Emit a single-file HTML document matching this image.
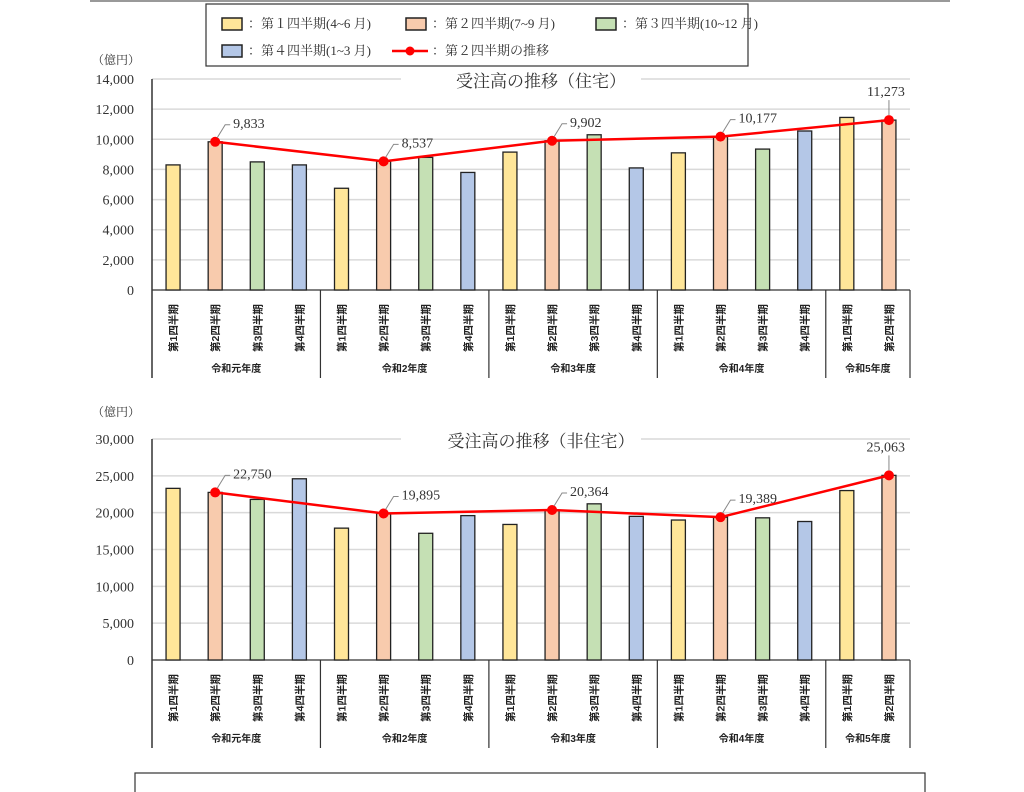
<!DOCTYPE html>
<html><head><meta charset="utf-8">
<style>
body{margin:0;background:#fff;}
svg{display:block;font-family:"Liberation Serif","Noto Serif CJK SC",serif;}
</style></head>
<body>
<svg id="s" width="1024" height="792" viewBox="0 0 1024 792">
<rect x="0" y="0" width="1024" height="792" fill="#fff"/>
<line x1="90" y1="1" x2="950" y2="1" stroke="#999" stroke-width="2"/>
<g>
<rect x="206" y="4" width="542" height="62" fill="#fff" stroke="#333" stroke-width="1.2"/>
<rect x="222" y="18" width="20" height="12" fill="#FFE699" stroke="#222" stroke-width="1.5"/>
<text x="248" y="28" font-size="13" fill="#333">：第１四半期(4~6 月)</text>
<rect x="406" y="18" width="20" height="12" fill="#F8CBAD" stroke="#222" stroke-width="1.5"/>
<text x="432" y="28" font-size="13" fill="#333">：第２四半期(7~9 月)</text>
<rect x="596" y="18" width="20" height="12" fill="#C5E0B4" stroke="#222" stroke-width="1.5"/>
<text x="622" y="28" font-size="13" fill="#333">：第３四半期(10~12 月)</text>
<rect x="222" y="45" width="20" height="12" fill="#B4C7E7" stroke="#222" stroke-width="1.5"/>
<text x="248" y="55" font-size="13" fill="#333">：第４四半期(1~3 月)</text>
<line x1="392" y1="51" x2="428" y2="51" stroke="#f00" stroke-width="2.5"/>
<circle cx="410" cy="51" r="4.5" fill="#f00"/>
<text x="432" y="55" font-size="13" fill="#333">：第２四半期の推移</text>
</g>
<rect x="135" y="773" width="790" height="30" fill="#fff" stroke="#333" stroke-width="1.2"/>
</svg>
<script>
const groups=["令和元年度","令和2年度","令和3年度","令和4年度","令和5年度"];
const quarters=["第1四半期","第2四半期","第3四半期","第4四半期"];
const resQ=[[8300,9833,8500,8300],[6750,8537,8800,7800],[9150,9902,10300,8100],[9100,10177,9350,10550],[11450,11273]];
const nonQ=[[23300,22750,21800,24600],[17900,19895,17200,19600],[18400,20364,21200,19500],[19000,19389,19300,18800],[23000,25063]];
const resTicks=[0,2000,4000,6000,8000,10000,12000,14000];
const nonTicks=[0,5000,10000,15000,20000,25000,30000];
const colors=["#FFE699","#F8CBAD","#C5E0B4","#B4C7E7"];
const NS="http://www.w3.org/2000/svg";
const svg=document.getElementById('s');
function mk(t,a,p){const e=document.createElementNS(NS,t);for(const k in a)e.setAttribute(k,a[k]);(p||svg).appendChild(e);return e;}
function chart(data,ticks,max,y0,yTop,title,unitY,name){
  const g=mk('g',{});
  
  
  const L=152,R=910;
  const nSlots=data.reduce((a,d)=>a+d.length,0);
  const sw=(R-L)/nSlots;
  const y=v=>y0-(v/max)*(y0-yTop);
  const u=mk('text',{x:92,y:unitY,'font-size':12,fill:'#333'},g);u.textContent='（億円）';
  
  
  ticks.forEach(t=>{
    const ln=mk('line',{x1:L,x2:R,y1:y(t),y2:y(t),stroke:t?'#d9d9d9':'#333','stroke-width':t?1.5:1.2},g);
    
    
    const tx=mk('text',{x:134,y:y(t)+5,'font-size':14,'text-anchor':'end',fill:'#333'},g);
    tx.textContent=t.toLocaleString('en-US');
    
    
  });
  mk('line',{x1:L,x2:L,y1:yTop,y2:y0+88,stroke:'#333','stroke-width':1.5},g);
  mk('rect',{x:(L+R)/2-130,y:yTop-10,width:240,height:20,fill:'#fff'},g);
  const tt=mk('text',{x:(L+R)/2+10,y:yTop+8,'font-size':17,'text-anchor':'middle',fill:'#333'},g);
  tt.textContent=title;
  
  
  let s=0;const pts=[];
  data.forEach((grp,gi)=>{
    const gx0=L+s*sw;
    grp.forEach((v,qi)=>{
      const cx=L+(s+0.5)*sw;
      const b=mk('rect',{x:cx-7,y:y(v),width:14,height:y0-y(v),fill:colors[qi],stroke:'#222','stroke-width':1.3},g);
      
      
      const ql=mk('text',{transform:`translate(${cx+4},${y0+62}) rotate(-90)`,'font-size':10.5,'font-family':'"Liberation Sans","Noto Sans CJK JP",sans-serif',fill:'#222','font-weight':'bold'},g);
      ql.textContent=quarters[qi];
      
      
      if(qi===1)pts.push([cx,y(v),v]);
      s++;
    });
    const gx1=L+s*sw;
    mk('line',{x1:gx1,x2:gx1,y1:y0,y2:y0+88,stroke:'#333','stroke-width':1.2},g);
    const gl=mk('text',{x:(gx0+gx1)/2,y:y0+82,'font-size':10,'text-anchor':'middle','font-family':'"Liberation Sans","Noto Sans CJK JP",sans-serif','font-weight':'bold',fill:'#222'},g);
    gl.textContent=groups[gi];
    
    
  });
  const pl=mk('polyline',{points:pts.map(p=>p[0]+','+p[1]).join(' '),fill:'none',stroke:'#f00','stroke-width':2.5},g);
  
  
  pts.forEach((p,i)=>{
    const c=mk('circle',{cx:p[0],cy:p[1],r:5,fill:'#f00'},g);
    
    
    const last=i===pts.length-1;
    if(last){
      mk('line',{x1:p[0],y1:p[1]-5,x2:p[0],y2:p[1]-20,stroke:'#888','stroke-width':1},g);
    } else {
      mk('polyline',{points:`${p[0]+2},${p[1]-4} ${p[0]+10},${p[1]-17} ${p[0]+15},${p[1]-17}`,fill:'none',stroke:'#888','stroke-width':1},g);
    }
    const lt=mk('text',{x:last?p[0]+16:p[0]+18,y:last?p[1]-24:p[1]-14,'font-size':14,'text-anchor':last?'end':'start',fill:'#333'},g);
    lt.textContent=p[2].toLocaleString('en-US');
    
    
  });
}
chart(resQ,resTicks,14000,290,79,'受注高の推移（住宅）',64,'residential-chart');
chart(nonQ,nonTicks,30000,660,439,'受注高の推移（非住宅）',416,'nonresidential-chart');
</script>
</body></html>
